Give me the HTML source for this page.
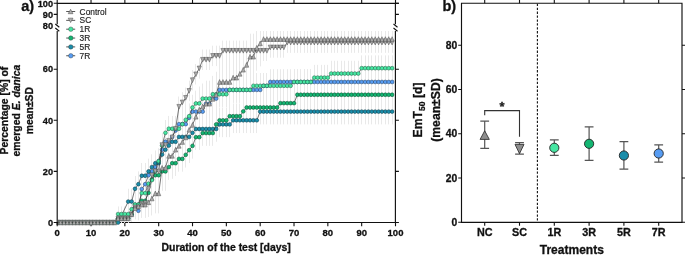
<!DOCTYPE html>
<html><head><meta charset="utf-8"><style>
html,body{margin:0;padding:0;background:#fff;}
svg{display:block;will-change:transform;}
</style></head><body>
<svg width="685" height="255" viewBox="0 0 685 255">
<defs><clipPath id="clipLow"><rect x="40" y="31" width="370" height="192"/></clipPath><clipPath id="clipData"><rect x="58" y="28" width="336.8" height="227"/></clipPath></defs>
<rect width="685" height="255" fill="#fff"/>
<path d="M57.2,3.3V24.3 M57.2,31V225.0 M395.4,3.3V24.3 M395.4,31V222.5 M56.6,3.3H398.9 M57.2,222.5H396.0" stroke="#111" stroke-width="1.15" fill="none"/>
<path d="M55.300000000000004,24.0L59.300000000000004,27.2 M55.300000000000004,28.0L59.300000000000004,31.2" stroke="#111" stroke-width="1.1" fill="none"/>
<path d="M393.5,24.0L397.5,27.2 M393.5,28.0L397.5,31.2" stroke="#111" stroke-width="1.1" fill="none"/>
<path d="M57.20,222.5V226.3M57.20,3.3V0M91.03,222.5V226.3M91.03,3.3V0M124.86,222.5V226.3M124.86,3.3V0M158.69,222.5V226.3M158.69,3.3V0M192.52,222.5V226.3M192.52,3.3V0M226.35,222.5V226.3M226.35,3.3V0M260.18,222.5V226.3M260.18,3.3V0M294.01,222.5V226.3M294.01,3.3V0M327.84,222.5V226.3M327.84,3.3V0M361.67,222.5V226.3M361.67,3.3V0M395.50,222.5V226.3M395.50,3.3V0M53.7,222.50H57.2M395.4,222.50H398.9M53.7,171.40H57.2M395.4,171.40H398.9M53.7,120.30H57.2M395.4,120.30H398.9M53.7,69.20H57.2M395.4,69.20H398.9M53.7,3.3H57.2M395.4,3.3H398.9M53.7,14.4H57.2M395.4,14.4H398.9" stroke="#111" stroke-width="1.1" fill="none"/>
<g style="font-family:'Liberation Sans',sans-serif;stroke:#111;stroke-width:0.3px;font-weight:bold;font-size:9.2px" fill="#111"><text x="53" y="225.70" text-anchor="end">0</text><text x="53" y="174.60" text-anchor="end">20</text><text x="53" y="123.50" text-anchor="end">40</text><text x="53" y="72.40" text-anchor="end">60</text><text x="53" y="6.5" text-anchor="end">100</text><text x="53" y="17.6" text-anchor="end">90</text><text x="53" y="28.5" text-anchor="end">80</text></g>
<g style="font-family:'Liberation Sans',sans-serif;stroke:#111;stroke-width:0.3px;font-weight:bold;font-size:9.5px" fill="#111"><text x="57.20" y="235.9" text-anchor="middle">0</text><text x="91.03" y="235.9" text-anchor="middle">10</text><text x="124.86" y="235.9" text-anchor="middle">20</text><text x="158.69" y="235.9" text-anchor="middle">30</text><text x="192.52" y="235.9" text-anchor="middle">40</text><text x="226.35" y="235.9" text-anchor="middle">50</text><text x="260.18" y="235.9" text-anchor="middle">60</text><text x="294.01" y="235.9" text-anchor="middle">70</text><text x="327.84" y="235.9" text-anchor="middle">80</text><text x="361.67" y="235.9" text-anchor="middle">90</text><text x="395.50" y="235.9" text-anchor="middle">100</text></g>
<text x="226.2" y="250.9" text-anchor="middle" style="font-family:'Liberation Sans',sans-serif;stroke:#111;stroke-width:0.3px;font-weight:bold;font-size:10.45px" fill="#111">Duration of the test [days]</text>
<text x="21.3" y="11.0" style="font-family:'Liberation Sans',sans-serif;stroke:#111;stroke-width:0.3px;font-weight:bold;font-size:14.5px" fill="#111">a)</text>
<g transform="translate(0,110.6) rotate(-90)" style="font-family:'Liberation Sans',sans-serif;stroke:#111;stroke-width:0.3px;font-weight:bold;font-size:10.4px" fill="#111" text-anchor="middle"><text x="0" y="8.2">Percentage [%] of</text><text x="0" y="20.0">emerged <tspan font-style="italic">E. danica</tspan></text><text x="0" y="32.9">mean±SD</text></g>
<path d="M66.2,11.50H75.2" stroke="#444" stroke-width="0.9"/><path d="M70.60,9.30L73.00,13.70L68.20,13.70Z" fill="#b0b0b0" stroke="#444" stroke-width="0.5"/><text x="79.6" y="14.50" style="font-family:'Liberation Sans',sans-serif;stroke:#111;stroke-width:0.3px;font-size:8.4px;stroke:#222;stroke-width:0.15px" fill="#222">Control</text><path d="M66.2,20.35H75.2" stroke="#444" stroke-width="0.9"/><path d="M70.60,22.55L73.00,18.15L68.20,18.15Z" fill="#b0b0b0" stroke="#444" stroke-width="0.5"/><text x="79.6" y="23.35" style="font-family:'Liberation Sans',sans-serif;stroke:#111;stroke-width:0.3px;font-size:8.4px;stroke:#222;stroke-width:0.15px" fill="#222">SC</text><path d="M66.2,29.20H75.2" stroke="#444" stroke-width="0.9"/><circle cx="70.8" cy="29.20" r="2.25" fill="#46e6a2" stroke="#2a3838" stroke-width="0.4"/><text x="79.6" y="32.20" style="font-family:'Liberation Sans',sans-serif;stroke:#111;stroke-width:0.3px;font-size:8.4px;stroke:#222;stroke-width:0.15px" fill="#222">1R</text><path d="M66.2,38.05H75.2" stroke="#444" stroke-width="0.9"/><circle cx="70.8" cy="38.05" r="2.25" fill="#14b572" stroke="#2a3838" stroke-width="0.4"/><text x="79.6" y="41.05" style="font-family:'Liberation Sans',sans-serif;stroke:#111;stroke-width:0.3px;font-size:8.4px;stroke:#222;stroke-width:0.15px" fill="#222">3R</text><path d="M66.2,46.90H75.2" stroke="#444" stroke-width="0.9"/><circle cx="70.8" cy="46.90" r="2.25" fill="#1b8daa" stroke="#2a3838" stroke-width="0.4"/><text x="79.6" y="49.90" style="font-family:'Liberation Sans',sans-serif;stroke:#111;stroke-width:0.3px;font-size:8.4px;stroke:#222;stroke-width:0.15px" fill="#222">5R</text><path d="M66.2,55.75H75.2" stroke="#444" stroke-width="0.9"/><circle cx="70.8" cy="55.75" r="2.25" fill="#579cf2" stroke="#2a3838" stroke-width="0.4"/><text x="79.6" y="58.75" style="font-family:'Liberation Sans',sans-serif;stroke:#111;stroke-width:0.3px;font-size:8.4px;stroke:#222;stroke-width:0.15px" fill="#222">7R</text>
<g clip-path="url(#clipData)">
<path d="M118.50,213.40V222.50M121.50,213.40V222.50M124.50,213.40V222.50M128.50,213.40V222.50M131.50,207.27V221.89M135.50,195.01V218.82M138.50,201.14V220.35M141.50,176.25V201.80M145.50,171.40V196.95M148.50,162.46V188.01M151.50,158.62V184.18M155.50,154.28V179.83M158.50,148.41V173.95M162.50,136.91V162.46M165.50,128.99V154.54M168.50,128.99V154.54M172.50,124.13V149.68M175.50,117.74V143.30M178.50,111.36V136.91M182.50,111.36V136.91M185.50,111.36V136.91M189.50,104.97V130.52M192.50,98.84V124.39M195.50,98.84V124.39M199.50,98.84V124.39M202.50,98.84V124.39M206.50,90.92V116.47M209.50,90.92V116.47M212.50,85.81V111.36M216.50,85.81V111.36M219.50,77.12V102.67M222.50,77.12V102.67M226.50,77.12V102.67M229.50,77.12V102.67M233.50,77.12V102.67M236.50,77.12V102.67M239.50,77.12V102.67M243.50,77.12V102.67M246.50,77.12V102.67M250.50,77.12V102.67M253.50,77.12V102.67M256.50,77.12V102.67M260.50,77.12V102.67M263.50,73.03V98.58M266.50,73.03V98.58M270.50,69.20V94.75M273.50,69.20V94.75M277.50,69.20V94.75M280.50,69.20V94.75M283.50,69.20V94.75M287.50,69.20V94.75M290.50,69.20V94.75M294.50,69.20V94.75M297.50,69.20V94.75M300.50,69.20V94.75M304.50,69.20V94.75M307.50,69.20V94.75M310.50,69.20V94.75M314.50,69.20V94.75M317.50,69.20V94.75M321.50,69.20V94.75M324.50,69.20V94.75M327.50,69.20V94.75M331.50,69.20V94.75M334.50,69.20V94.75M337.50,69.20V94.75M341.50,69.20V94.75M344.50,69.20V94.75M348.50,69.20V94.75M351.50,69.20V94.75M354.50,69.20V94.75M358.50,69.20V94.75M361.50,69.20V94.75M365.50,69.20V94.75M368.50,69.20V94.75M371.50,69.20V94.75M375.50,69.20V94.75M378.50,69.20V94.75M381.50,69.20V94.75M385.50,69.20V94.75M388.50,69.20V94.75M392.50,69.20V94.75M128.50,188.77V214.32M131.50,188.77V214.32M135.50,176.00V201.55M138.50,171.40V196.95M141.50,162.97V188.52M145.50,162.97V188.52M148.50,158.62V184.18M151.50,154.28V179.83M155.50,150.45V176.00M158.50,150.45V176.00M162.50,141.76V167.31M165.50,136.91V162.46M168.50,132.82V158.37M172.50,128.99V154.54M175.50,128.99V154.54M178.50,124.13V149.68M182.50,124.13V149.68M185.50,124.13V149.68M189.50,124.13V149.68M192.50,120.04V145.59M195.50,116.21V141.76M199.50,116.21V141.76M202.50,116.21V141.76M206.50,116.21V141.76M209.50,116.21V141.76M212.50,116.21V141.76M216.50,116.21V141.76M219.50,111.61V137.16M222.50,111.61V137.16M226.50,111.61V137.16M229.50,111.61V137.16M233.50,107.52V133.07M236.50,107.52V133.07M239.50,107.52V133.07M243.50,107.52V133.07M246.50,107.52V133.07M250.50,107.52V133.07M253.50,107.52V133.07M256.50,107.52V133.07M260.50,98.84V124.39M263.50,98.84V124.39M266.50,98.84V124.39M270.50,98.84V124.39M273.50,98.84V124.39M277.50,98.84V124.39M280.50,98.84V124.39M283.50,98.84V124.39M287.50,98.84V124.39M290.50,98.84V124.39M294.50,98.84V124.39M297.50,98.84V124.39M300.50,98.84V124.39M304.50,98.84V124.39M307.50,98.84V124.39M310.50,98.84V124.39M314.50,98.84V124.39M317.50,98.84V124.39M321.50,98.84V124.39M324.50,98.84V124.39M327.50,98.84V124.39M331.50,98.84V124.39M334.50,98.84V124.39M337.50,98.84V124.39M341.50,98.84V124.39M344.50,98.84V124.39M348.50,98.84V124.39M351.50,98.84V124.39M354.50,98.84V124.39M358.50,98.84V124.39M361.50,98.84V124.39M365.50,98.84V124.39M368.50,98.84V124.39M371.50,98.84V124.39M375.50,98.84V124.39M378.50,98.84V124.39M381.50,98.84V124.39M385.50,98.84V124.39M388.50,98.84V124.39M392.50,98.84V124.39M118.50,213.40V222.50M121.50,213.40V222.50M124.50,213.40V222.50M128.50,213.40V222.50M131.50,206.86V221.78M135.50,191.84V217.39M138.50,191.84V217.39M141.50,188.01V213.56M145.50,188.01V213.56M148.50,180.09V205.64M151.50,166.55V192.10M155.50,162.46V188.01M158.50,162.46V188.01M162.50,158.62V184.18M165.50,158.62V184.18M168.50,154.28V179.83M172.50,150.45V176.00M175.50,150.45V176.00M178.50,146.11V171.66M182.50,146.11V171.66M185.50,142.02V167.57M189.50,137.42V162.97M192.50,133.07V158.62M195.50,124.39V149.94M199.50,124.39V149.94M202.50,120.30V145.85M206.50,120.30V145.85M209.50,120.30V145.85M212.50,120.30V145.85M216.50,111.61V137.16M219.50,107.52V133.07M222.50,107.52V133.07M226.50,107.52V133.07M229.50,103.44V128.99M233.50,103.44V128.99M236.50,103.44V128.99M239.50,103.44V128.99M243.50,98.58V124.13M246.50,94.75V120.30M250.50,94.75V120.30M253.50,94.75V120.30M256.50,94.75V120.30M260.50,94.75V120.30M263.50,94.75V120.30M266.50,94.75V120.30M270.50,94.75V120.30M273.50,94.75V120.30M277.50,94.75V120.30M280.50,90.41V115.96M283.50,90.41V115.96M287.50,90.41V115.96M290.50,90.41V115.96M294.50,90.41V115.96M297.50,81.97V107.52M300.50,81.97V107.52M304.50,81.97V107.52M307.50,81.97V107.52M310.50,81.97V107.52M314.50,81.97V107.52M317.50,81.97V107.52M321.50,81.97V107.52M324.50,81.97V107.52M327.50,81.97V107.52M331.50,81.97V107.52M334.50,81.97V107.52M337.50,81.97V107.52M341.50,81.97V107.52M344.50,81.97V107.52M348.50,81.97V107.52M351.50,81.97V107.52M354.50,81.97V107.52M358.50,81.97V107.52M361.50,81.97V107.52M365.50,81.97V107.52M368.50,81.97V107.52M371.50,81.97V107.52M375.50,81.97V107.52M378.50,81.97V107.52M381.50,81.97V107.52M385.50,81.97V107.52M388.50,81.97V107.52M392.50,81.97V107.52M118.50,206.45V221.68M121.50,206.45V221.68M124.50,206.45V221.68M128.50,206.45V221.68M131.50,198.69V219.74M135.50,191.84V217.39M138.50,191.84V217.39M141.50,180.34V205.89M145.50,180.34V205.89M148.50,170.89V196.44M151.50,167.31V192.86M155.50,158.62V184.18M158.50,148.41V173.95M162.50,132.82V158.37M165.50,120.04V145.59M168.50,115.96V141.51M172.50,115.96V141.51M175.50,115.96V141.51M178.50,115.96V141.51M182.50,111.36V136.91M185.50,107.01V132.56M189.50,103.44V128.99M192.50,94.75V120.30M195.50,90.66V116.21M199.50,90.66V116.21M202.50,85.81V111.36M206.50,85.81V111.36M209.50,85.81V111.36M212.50,81.46V107.01M216.50,81.46V107.01M219.50,81.46V107.01M222.50,81.46V107.01M226.50,81.46V107.01M229.50,77.12V102.67M233.50,77.12V102.67M236.50,77.12V102.67M239.50,77.12V102.67M243.50,77.12V102.67M246.50,77.12V102.67M250.50,77.12V102.67M253.50,73.03V98.58M256.50,73.03V98.58M260.50,73.03V98.58M263.50,73.03V98.58M266.50,73.03V98.58M270.50,73.03V98.58M273.50,73.03V98.58M277.50,73.03V98.58M280.50,73.03V98.58M283.50,73.03V98.58M287.50,73.03V98.58M290.50,73.03V98.58M294.50,69.20V94.75M297.50,69.20V94.75M300.50,69.20V94.75M304.50,69.20V94.75M307.50,69.20V94.75M310.50,69.20V94.75M314.50,64.86V90.41M317.50,64.86V90.41M321.50,64.86V90.41M324.50,64.86V90.41M327.50,64.86V90.41M331.50,60.77V86.32M334.50,60.77V86.32M337.50,60.77V86.32M341.50,60.77V86.32M344.50,60.77V86.32M348.50,60.77V86.32M351.50,60.77V86.32M354.50,60.77V86.32M358.50,60.77V86.32M361.50,55.40V80.95M365.50,55.40V80.95M368.50,55.40V80.95M371.50,55.40V80.95M375.50,55.40V80.95M378.50,55.40V80.95M381.50,55.40V80.95M385.50,55.40V80.95M388.50,55.40V80.95M392.50,55.40V80.95M118.50,213.40V222.50M121.50,213.40V222.50M124.50,213.40V222.50M128.50,213.40V222.50M131.50,207.27V221.89M135.50,197.21V217.65M138.50,197.21V217.65M141.50,193.37V213.81M145.50,192.86V213.30M148.50,178.81V199.25M151.50,165.01V185.45M155.50,161.18V181.62M158.50,161.18V181.62M162.50,134.86V155.30M165.50,134.86V155.30M168.50,130.52V150.96M172.50,127.20V147.64M175.50,118.51V138.95M178.50,96.54V116.98M182.50,92.19V112.63M185.50,87.60V108.04M189.50,80.70V101.14M192.50,69.97V90.41M195.50,64.09V84.53M199.50,58.21V78.65M202.50,49.53V69.97M206.50,49.53V69.97M209.50,49.53V69.97M212.50,45.69V66.13M216.50,45.69V66.13M219.50,45.69V66.13M222.50,40.58V61.02M226.50,40.58V61.02M229.50,40.58V61.02M233.50,40.58V61.02M236.50,40.58V61.02M239.50,40.58V61.02M243.50,40.58V61.02M246.50,40.58V61.02M250.50,40.58V61.02M253.50,40.58V61.02M256.50,40.58V61.02M260.50,40.58V61.02M263.50,40.58V61.02M266.50,40.58V61.02M270.50,37.26V57.70M273.50,37.26V57.70M277.50,37.26V57.70M280.50,37.26V57.70M283.50,37.26V57.70M287.50,32.41V52.85M290.50,32.41V52.85M294.50,32.41V52.85M297.50,32.41V52.85M300.50,32.41V52.85M304.50,32.41V52.85M307.50,32.41V52.85M310.50,32.41V52.85M314.50,32.41V52.85M317.50,32.41V52.85M321.50,32.41V52.85M324.50,32.41V52.85M327.50,32.41V52.85M331.50,32.41V52.85M334.50,32.41V52.85M337.50,32.41V52.85M341.50,32.41V52.85M344.50,32.41V52.85M348.50,32.41V52.85M351.50,32.41V52.85M354.50,32.41V52.85M358.50,32.41V52.85M361.50,32.41V52.85M365.50,32.41V52.85M368.50,32.41V52.85M371.50,32.41V52.85M375.50,32.41V52.85M378.50,32.41V52.85M381.50,32.41V52.85M385.50,32.41V52.85M388.50,32.41V52.85M392.50,32.41V52.85M118.50,213.40V222.50M121.50,213.40V222.50M124.50,213.40V222.50M128.50,213.40V222.50M131.50,206.86V221.78M135.50,197.05V219.33M138.50,193.78V218.51M141.50,191.33V217.90M145.50,191.33V217.90M148.50,187.65V216.98M151.50,181.52V215.45M155.50,173.34V213.40M158.50,173.34V213.40M162.50,144.83V190.82M165.50,144.83V190.82M168.50,132.82V178.81M172.50,132.82V178.81M175.50,126.69V172.68M178.50,122.85V168.84M182.50,119.02V165.01M185.50,114.42V160.41M189.50,106.76V152.75M192.50,101.90V147.89M195.50,93.73V139.72M199.50,86.57V132.56M202.50,83.51V129.50M206.50,80.70V126.69M209.50,80.70V126.69M212.50,75.84V121.83M216.50,71.75V117.74M219.50,58.98V104.97M222.50,58.98V104.97M226.50,58.98V104.97M229.50,58.98V104.97M233.50,54.64V100.63M236.50,54.64V100.63M239.50,50.80V96.79M243.50,46.72V92.71M246.50,41.86V87.85M250.50,33.69V79.68M253.50,33.69V79.68M256.50,24.74V70.73M260.50,20.40V66.39M263.50,28.83V49.27M266.50,28.83V49.27M270.50,28.83V49.27M273.50,28.83V49.27M277.50,28.83V49.27M280.50,28.83V49.27M283.50,28.83V49.27M287.50,28.83V49.27M290.50,28.83V49.27M294.50,28.83V49.27M297.50,28.83V49.27M300.50,28.83V49.27M304.50,28.83V49.27M307.50,28.83V49.27M310.50,28.83V49.27M314.50,28.83V49.27M317.50,28.83V49.27M321.50,28.83V49.27M324.50,28.83V49.27M327.50,28.83V49.27M331.50,28.83V49.27M334.50,28.83V49.27M337.50,28.83V49.27M341.50,28.83V49.27M344.50,28.83V49.27M348.50,28.83V49.27M351.50,28.83V49.27M354.50,28.83V49.27M358.50,28.83V49.27M361.50,28.83V49.27M365.50,28.83V49.27M368.50,28.83V49.27M371.50,28.83V49.27M375.50,28.83V49.27M378.50,28.83V49.27M381.50,28.83V49.27M385.50,28.83V49.27M388.50,28.83V49.27M392.50,28.83V49.27" stroke="#e9e9e9" stroke-width="1" fill="none" clip-path="url(#clipLow)"/>
<polyline points="57.20,222.50 60.58,222.50 63.97,222.50 67.35,222.50 70.73,222.50 74.12,222.50 77.50,222.50 80.88,222.50 84.26,222.50 87.65,222.50 91.03,222.50 94.41,222.50 97.80,222.50 101.18,222.50 104.56,222.50 107.94,222.50 111.33,222.50 114.71,222.50 118.09,218.41 121.48,218.41 124.86,218.41 128.24,218.41 131.63,214.58 135.01,206.91 138.39,210.75 141.78,189.03 145.16,184.18 148.54,175.23 151.92,171.40 155.31,167.06 158.69,161.18 162.07,149.68 165.46,141.76 168.84,141.76 172.22,136.91 175.61,130.52 178.99,124.13 182.37,124.13 185.75,124.13 189.14,117.74 192.52,111.61 195.90,111.61 199.29,111.61 202.67,111.61 206.05,103.69 209.44,103.69 212.82,98.58 216.20,98.58 219.58,89.90 222.97,89.90 226.35,89.90 229.73,89.90 233.12,89.90 236.50,89.90 239.88,89.90 243.26,89.90 246.65,89.90 250.03,89.90 253.41,89.90 256.80,89.90 260.18,89.90 263.56,85.81 266.95,85.81 270.33,81.97 273.71,81.97 277.10,81.97 280.48,81.97 283.86,81.97 287.24,81.97 290.63,81.97 294.01,81.97 297.39,81.97 300.78,81.97 304.16,81.97 307.54,81.97 310.93,81.97 314.31,81.97 317.69,81.97 321.07,81.97 324.46,81.97 327.84,81.97 331.22,81.97 334.61,81.97 337.99,81.97 341.37,81.97 344.75,81.97 348.14,81.97 351.52,81.97 354.90,81.97 358.29,81.97 361.67,81.97 365.05,81.97 368.44,81.97 371.82,81.97 375.20,81.97 378.58,81.97 381.97,81.97 385.35,81.97 388.73,81.97 392.12,81.97" fill="none" stroke="#3a3a3a" stroke-width="0.7"/>
<g fill="#579cf2" stroke="#223e60" stroke-width="0.5"><circle cx="57.20" cy="222.50" r="1.9"/><circle cx="60.58" cy="222.50" r="1.9"/><circle cx="63.97" cy="222.50" r="1.9"/><circle cx="67.35" cy="222.50" r="1.9"/><circle cx="70.73" cy="222.50" r="1.9"/><circle cx="74.12" cy="222.50" r="1.9"/><circle cx="77.50" cy="222.50" r="1.9"/><circle cx="80.88" cy="222.50" r="1.9"/><circle cx="84.26" cy="222.50" r="1.9"/><circle cx="87.65" cy="222.50" r="1.9"/><circle cx="91.03" cy="222.50" r="1.9"/><circle cx="94.41" cy="222.50" r="1.9"/><circle cx="97.80" cy="222.50" r="1.9"/><circle cx="101.18" cy="222.50" r="1.9"/><circle cx="104.56" cy="222.50" r="1.9"/><circle cx="107.94" cy="222.50" r="1.9"/><circle cx="111.33" cy="222.50" r="1.9"/><circle cx="114.71" cy="222.50" r="1.9"/><circle cx="118.09" cy="218.41" r="1.9"/><circle cx="121.48" cy="218.41" r="1.9"/><circle cx="124.86" cy="218.41" r="1.9"/><circle cx="128.24" cy="218.41" r="1.9"/><circle cx="131.63" cy="214.58" r="1.9"/><circle cx="135.01" cy="206.91" r="1.9"/><circle cx="138.39" cy="210.75" r="1.9"/><circle cx="141.78" cy="189.03" r="1.9"/><circle cx="145.16" cy="184.18" r="1.9"/><circle cx="148.54" cy="175.23" r="1.9"/><circle cx="151.92" cy="171.40" r="1.9"/><circle cx="155.31" cy="167.06" r="1.9"/><circle cx="158.69" cy="161.18" r="1.9"/><circle cx="162.07" cy="149.68" r="1.9"/><circle cx="165.46" cy="141.76" r="1.9"/><circle cx="168.84" cy="141.76" r="1.9"/><circle cx="172.22" cy="136.91" r="1.9"/><circle cx="175.61" cy="130.52" r="1.9"/><circle cx="178.99" cy="124.13" r="1.9"/><circle cx="182.37" cy="124.13" r="1.9"/><circle cx="185.75" cy="124.13" r="1.9"/><circle cx="189.14" cy="117.74" r="1.9"/><circle cx="192.52" cy="111.61" r="1.9"/><circle cx="195.90" cy="111.61" r="1.9"/><circle cx="199.29" cy="111.61" r="1.9"/><circle cx="202.67" cy="111.61" r="1.9"/><circle cx="206.05" cy="103.69" r="1.9"/><circle cx="209.44" cy="103.69" r="1.9"/><circle cx="212.82" cy="98.58" r="1.9"/><circle cx="216.20" cy="98.58" r="1.9"/><circle cx="219.58" cy="89.90" r="1.9"/><circle cx="222.97" cy="89.90" r="1.9"/><circle cx="226.35" cy="89.90" r="1.9"/><circle cx="229.73" cy="89.90" r="1.9"/><circle cx="233.12" cy="89.90" r="1.9"/><circle cx="236.50" cy="89.90" r="1.9"/><circle cx="239.88" cy="89.90" r="1.9"/><circle cx="243.26" cy="89.90" r="1.9"/><circle cx="246.65" cy="89.90" r="1.9"/><circle cx="250.03" cy="89.90" r="1.9"/><circle cx="253.41" cy="89.90" r="1.9"/><circle cx="256.80" cy="89.90" r="1.9"/><circle cx="260.18" cy="89.90" r="1.9"/><circle cx="263.56" cy="85.81" r="1.9"/><circle cx="266.95" cy="85.81" r="1.9"/><circle cx="270.33" cy="81.97" r="1.9"/><circle cx="273.71" cy="81.97" r="1.9"/><circle cx="277.10" cy="81.97" r="1.9"/><circle cx="280.48" cy="81.97" r="1.9"/><circle cx="283.86" cy="81.97" r="1.9"/><circle cx="287.24" cy="81.97" r="1.9"/><circle cx="290.63" cy="81.97" r="1.9"/><circle cx="294.01" cy="81.97" r="1.9"/><circle cx="297.39" cy="81.97" r="1.9"/><circle cx="300.78" cy="81.97" r="1.9"/><circle cx="304.16" cy="81.97" r="1.9"/><circle cx="307.54" cy="81.97" r="1.9"/><circle cx="310.93" cy="81.97" r="1.9"/><circle cx="314.31" cy="81.97" r="1.9"/><circle cx="317.69" cy="81.97" r="1.9"/><circle cx="321.07" cy="81.97" r="1.9"/><circle cx="324.46" cy="81.97" r="1.9"/><circle cx="327.84" cy="81.97" r="1.9"/><circle cx="331.22" cy="81.97" r="1.9"/><circle cx="334.61" cy="81.97" r="1.9"/><circle cx="337.99" cy="81.97" r="1.9"/><circle cx="341.37" cy="81.97" r="1.9"/><circle cx="344.75" cy="81.97" r="1.9"/><circle cx="348.14" cy="81.97" r="1.9"/><circle cx="351.52" cy="81.97" r="1.9"/><circle cx="354.90" cy="81.97" r="1.9"/><circle cx="358.29" cy="81.97" r="1.9"/><circle cx="361.67" cy="81.97" r="1.9"/><circle cx="365.05" cy="81.97" r="1.9"/><circle cx="368.44" cy="81.97" r="1.9"/><circle cx="371.82" cy="81.97" r="1.9"/><circle cx="375.20" cy="81.97" r="1.9"/><circle cx="378.58" cy="81.97" r="1.9"/><circle cx="381.97" cy="81.97" r="1.9"/><circle cx="385.35" cy="81.97" r="1.9"/><circle cx="388.73" cy="81.97" r="1.9"/><circle cx="392.12" cy="81.97" r="1.9"/></g>
<polyline points="57.20,222.50 60.58,222.50 63.97,222.50 67.35,222.50 70.73,222.50 74.12,222.50 77.50,222.50 80.88,222.50 84.26,222.50 87.65,222.50 91.03,222.50 94.41,222.50 97.80,222.50 101.18,222.50 104.56,222.50 107.94,222.50 111.33,222.50 114.71,222.50 118.09,222.50 128.24,201.55 131.63,201.55 135.01,188.77 138.39,184.18 141.78,175.74 145.16,175.74 148.54,171.40 151.92,167.06 155.31,163.22 158.69,163.22 162.07,154.54 165.46,149.68 168.84,145.59 172.22,141.76 175.61,141.76 178.99,136.91 182.37,136.91 185.75,136.91 189.14,136.91 192.52,132.82 195.90,128.99 199.29,128.99 202.67,128.99 206.05,128.99 209.44,128.99 212.82,128.99 216.20,128.99 219.58,124.39 222.97,124.39 226.35,124.39 229.73,124.39 233.12,120.30 236.50,120.30 239.88,120.30 243.26,120.30 246.65,120.30 250.03,120.30 253.41,120.30 256.80,120.30 260.18,111.61 263.56,111.61 266.95,111.61 270.33,111.61 273.71,111.61 277.10,111.61 280.48,111.61 283.86,111.61 287.24,111.61 290.63,111.61 294.01,111.61 297.39,111.61 300.78,111.61 304.16,111.61 307.54,111.61 310.93,111.61 314.31,111.61 317.69,111.61 321.07,111.61 324.46,111.61 327.84,111.61 331.22,111.61 334.61,111.61 337.99,111.61 341.37,111.61 344.75,111.61 348.14,111.61 351.52,111.61 354.90,111.61 358.29,111.61 361.67,111.61 365.05,111.61 368.44,111.61 371.82,111.61 375.20,111.61 378.58,111.61 381.97,111.61 385.35,111.61 388.73,111.61 392.12,111.61" fill="none" stroke="#3a3a3a" stroke-width="0.7"/>
<g fill="#1b8daa" stroke="#0a3844" stroke-width="0.5"><circle cx="57.20" cy="222.50" r="1.9"/><circle cx="60.58" cy="222.50" r="1.9"/><circle cx="63.97" cy="222.50" r="1.9"/><circle cx="67.35" cy="222.50" r="1.9"/><circle cx="70.73" cy="222.50" r="1.9"/><circle cx="74.12" cy="222.50" r="1.9"/><circle cx="77.50" cy="222.50" r="1.9"/><circle cx="80.88" cy="222.50" r="1.9"/><circle cx="84.26" cy="222.50" r="1.9"/><circle cx="87.65" cy="222.50" r="1.9"/><circle cx="91.03" cy="222.50" r="1.9"/><circle cx="94.41" cy="222.50" r="1.9"/><circle cx="97.80" cy="222.50" r="1.9"/><circle cx="101.18" cy="222.50" r="1.9"/><circle cx="104.56" cy="222.50" r="1.9"/><circle cx="107.94" cy="222.50" r="1.9"/><circle cx="111.33" cy="222.50" r="1.9"/><circle cx="114.71" cy="222.50" r="1.9"/><circle cx="118.09" cy="222.50" r="1.9"/><circle cx="128.24" cy="201.55" r="1.9"/><circle cx="131.63" cy="201.55" r="1.9"/><circle cx="135.01" cy="188.77" r="1.9"/><circle cx="138.39" cy="184.18" r="1.9"/><circle cx="141.78" cy="175.74" r="1.9"/><circle cx="145.16" cy="175.74" r="1.9"/><circle cx="148.54" cy="171.40" r="1.9"/><circle cx="151.92" cy="167.06" r="1.9"/><circle cx="155.31" cy="163.22" r="1.9"/><circle cx="158.69" cy="163.22" r="1.9"/><circle cx="162.07" cy="154.54" r="1.9"/><circle cx="165.46" cy="149.68" r="1.9"/><circle cx="168.84" cy="145.59" r="1.9"/><circle cx="172.22" cy="141.76" r="1.9"/><circle cx="175.61" cy="141.76" r="1.9"/><circle cx="178.99" cy="136.91" r="1.9"/><circle cx="182.37" cy="136.91" r="1.9"/><circle cx="185.75" cy="136.91" r="1.9"/><circle cx="189.14" cy="136.91" r="1.9"/><circle cx="192.52" cy="132.82" r="1.9"/><circle cx="195.90" cy="128.99" r="1.9"/><circle cx="199.29" cy="128.99" r="1.9"/><circle cx="202.67" cy="128.99" r="1.9"/><circle cx="206.05" cy="128.99" r="1.9"/><circle cx="209.44" cy="128.99" r="1.9"/><circle cx="212.82" cy="128.99" r="1.9"/><circle cx="216.20" cy="128.99" r="1.9"/><circle cx="219.58" cy="124.39" r="1.9"/><circle cx="222.97" cy="124.39" r="1.9"/><circle cx="226.35" cy="124.39" r="1.9"/><circle cx="229.73" cy="124.39" r="1.9"/><circle cx="233.12" cy="120.30" r="1.9"/><circle cx="236.50" cy="120.30" r="1.9"/><circle cx="239.88" cy="120.30" r="1.9"/><circle cx="243.26" cy="120.30" r="1.9"/><circle cx="246.65" cy="120.30" r="1.9"/><circle cx="250.03" cy="120.30" r="1.9"/><circle cx="253.41" cy="120.30" r="1.9"/><circle cx="256.80" cy="120.30" r="1.9"/><circle cx="260.18" cy="111.61" r="1.9"/><circle cx="263.56" cy="111.61" r="1.9"/><circle cx="266.95" cy="111.61" r="1.9"/><circle cx="270.33" cy="111.61" r="1.9"/><circle cx="273.71" cy="111.61" r="1.9"/><circle cx="277.10" cy="111.61" r="1.9"/><circle cx="280.48" cy="111.61" r="1.9"/><circle cx="283.86" cy="111.61" r="1.9"/><circle cx="287.24" cy="111.61" r="1.9"/><circle cx="290.63" cy="111.61" r="1.9"/><circle cx="294.01" cy="111.61" r="1.9"/><circle cx="297.39" cy="111.61" r="1.9"/><circle cx="300.78" cy="111.61" r="1.9"/><circle cx="304.16" cy="111.61" r="1.9"/><circle cx="307.54" cy="111.61" r="1.9"/><circle cx="310.93" cy="111.61" r="1.9"/><circle cx="314.31" cy="111.61" r="1.9"/><circle cx="317.69" cy="111.61" r="1.9"/><circle cx="321.07" cy="111.61" r="1.9"/><circle cx="324.46" cy="111.61" r="1.9"/><circle cx="327.84" cy="111.61" r="1.9"/><circle cx="331.22" cy="111.61" r="1.9"/><circle cx="334.61" cy="111.61" r="1.9"/><circle cx="337.99" cy="111.61" r="1.9"/><circle cx="341.37" cy="111.61" r="1.9"/><circle cx="344.75" cy="111.61" r="1.9"/><circle cx="348.14" cy="111.61" r="1.9"/><circle cx="351.52" cy="111.61" r="1.9"/><circle cx="354.90" cy="111.61" r="1.9"/><circle cx="358.29" cy="111.61" r="1.9"/><circle cx="361.67" cy="111.61" r="1.9"/><circle cx="365.05" cy="111.61" r="1.9"/><circle cx="368.44" cy="111.61" r="1.9"/><circle cx="371.82" cy="111.61" r="1.9"/><circle cx="375.20" cy="111.61" r="1.9"/><circle cx="378.58" cy="111.61" r="1.9"/><circle cx="381.97" cy="111.61" r="1.9"/><circle cx="385.35" cy="111.61" r="1.9"/><circle cx="388.73" cy="111.61" r="1.9"/><circle cx="392.12" cy="111.61" r="1.9"/></g>
<polyline points="57.20,222.50 60.58,222.50 63.97,222.50 67.35,222.50 70.73,222.50 74.12,222.50 77.50,222.50 80.88,222.50 84.26,222.50 87.65,222.50 91.03,222.50 94.41,222.50 97.80,222.50 101.18,222.50 104.56,222.50 107.94,222.50 111.33,222.50 114.71,222.50 118.09,218.41 121.48,218.41 124.86,218.41 128.24,218.41 131.63,214.32 135.01,204.62 138.39,204.62 141.78,200.78 145.16,200.78 148.54,192.86 151.92,179.32 155.31,175.23 158.69,175.23 162.07,171.40 165.46,171.40 168.84,167.06 172.22,163.22 175.61,163.22 178.99,158.88 182.37,158.88 185.75,154.79 189.14,150.19 192.52,145.85 195.90,137.16 199.29,137.16 202.67,133.07 206.05,133.07 209.44,133.07 212.82,133.07 216.20,124.39 219.58,120.30 222.97,120.30 226.35,120.30 229.73,116.21 233.12,116.21 236.50,116.21 239.88,116.21 243.26,111.36 246.65,107.52 250.03,107.52 253.41,107.52 256.80,107.52 260.18,107.52 263.56,107.52 266.95,107.52 270.33,107.52 273.71,107.52 277.10,107.52 280.48,103.18 283.86,103.18 287.24,103.18 290.63,103.18 294.01,103.18 297.39,94.75 300.78,94.75 304.16,94.75 307.54,94.75 310.93,94.75 314.31,94.75 317.69,94.75 321.07,94.75 324.46,94.75 327.84,94.75 331.22,94.75 334.61,94.75 337.99,94.75 341.37,94.75 344.75,94.75 348.14,94.75 351.52,94.75 354.90,94.75 358.29,94.75 361.67,94.75 365.05,94.75 368.44,94.75 371.82,94.75 375.20,94.75 378.58,94.75 381.97,94.75 385.35,94.75 388.73,94.75 392.12,94.75" fill="none" stroke="#3a3a3a" stroke-width="0.7"/>
<g fill="#14b572" stroke="#08482d" stroke-width="0.5"><circle cx="57.20" cy="222.50" r="1.9"/><circle cx="60.58" cy="222.50" r="1.9"/><circle cx="63.97" cy="222.50" r="1.9"/><circle cx="67.35" cy="222.50" r="1.9"/><circle cx="70.73" cy="222.50" r="1.9"/><circle cx="74.12" cy="222.50" r="1.9"/><circle cx="77.50" cy="222.50" r="1.9"/><circle cx="80.88" cy="222.50" r="1.9"/><circle cx="84.26" cy="222.50" r="1.9"/><circle cx="87.65" cy="222.50" r="1.9"/><circle cx="91.03" cy="222.50" r="1.9"/><circle cx="94.41" cy="222.50" r="1.9"/><circle cx="97.80" cy="222.50" r="1.9"/><circle cx="101.18" cy="222.50" r="1.9"/><circle cx="104.56" cy="222.50" r="1.9"/><circle cx="107.94" cy="222.50" r="1.9"/><circle cx="111.33" cy="222.50" r="1.9"/><circle cx="114.71" cy="222.50" r="1.9"/><circle cx="118.09" cy="218.41" r="1.9"/><circle cx="121.48" cy="218.41" r="1.9"/><circle cx="124.86" cy="218.41" r="1.9"/><circle cx="128.24" cy="218.41" r="1.9"/><circle cx="131.63" cy="214.32" r="1.9"/><circle cx="135.01" cy="204.62" r="1.9"/><circle cx="138.39" cy="204.62" r="1.9"/><circle cx="141.78" cy="200.78" r="1.9"/><circle cx="145.16" cy="200.78" r="1.9"/><circle cx="148.54" cy="192.86" r="1.9"/><circle cx="151.92" cy="179.32" r="1.9"/><circle cx="155.31" cy="175.23" r="1.9"/><circle cx="158.69" cy="175.23" r="1.9"/><circle cx="162.07" cy="171.40" r="1.9"/><circle cx="165.46" cy="171.40" r="1.9"/><circle cx="168.84" cy="167.06" r="1.9"/><circle cx="172.22" cy="163.22" r="1.9"/><circle cx="175.61" cy="163.22" r="1.9"/><circle cx="178.99" cy="158.88" r="1.9"/><circle cx="182.37" cy="158.88" r="1.9"/><circle cx="185.75" cy="154.79" r="1.9"/><circle cx="189.14" cy="150.19" r="1.9"/><circle cx="192.52" cy="145.85" r="1.9"/><circle cx="195.90" cy="137.16" r="1.9"/><circle cx="199.29" cy="137.16" r="1.9"/><circle cx="202.67" cy="133.07" r="1.9"/><circle cx="206.05" cy="133.07" r="1.9"/><circle cx="209.44" cy="133.07" r="1.9"/><circle cx="212.82" cy="133.07" r="1.9"/><circle cx="216.20" cy="124.39" r="1.9"/><circle cx="219.58" cy="120.30" r="1.9"/><circle cx="222.97" cy="120.30" r="1.9"/><circle cx="226.35" cy="120.30" r="1.9"/><circle cx="229.73" cy="116.21" r="1.9"/><circle cx="233.12" cy="116.21" r="1.9"/><circle cx="236.50" cy="116.21" r="1.9"/><circle cx="239.88" cy="116.21" r="1.9"/><circle cx="243.26" cy="111.36" r="1.9"/><circle cx="246.65" cy="107.52" r="1.9"/><circle cx="250.03" cy="107.52" r="1.9"/><circle cx="253.41" cy="107.52" r="1.9"/><circle cx="256.80" cy="107.52" r="1.9"/><circle cx="260.18" cy="107.52" r="1.9"/><circle cx="263.56" cy="107.52" r="1.9"/><circle cx="266.95" cy="107.52" r="1.9"/><circle cx="270.33" cy="107.52" r="1.9"/><circle cx="273.71" cy="107.52" r="1.9"/><circle cx="277.10" cy="107.52" r="1.9"/><circle cx="280.48" cy="103.18" r="1.9"/><circle cx="283.86" cy="103.18" r="1.9"/><circle cx="287.24" cy="103.18" r="1.9"/><circle cx="290.63" cy="103.18" r="1.9"/><circle cx="294.01" cy="103.18" r="1.9"/><circle cx="297.39" cy="94.75" r="1.9"/><circle cx="300.78" cy="94.75" r="1.9"/><circle cx="304.16" cy="94.75" r="1.9"/><circle cx="307.54" cy="94.75" r="1.9"/><circle cx="310.93" cy="94.75" r="1.9"/><circle cx="314.31" cy="94.75" r="1.9"/><circle cx="317.69" cy="94.75" r="1.9"/><circle cx="321.07" cy="94.75" r="1.9"/><circle cx="324.46" cy="94.75" r="1.9"/><circle cx="327.84" cy="94.75" r="1.9"/><circle cx="331.22" cy="94.75" r="1.9"/><circle cx="334.61" cy="94.75" r="1.9"/><circle cx="337.99" cy="94.75" r="1.9"/><circle cx="341.37" cy="94.75" r="1.9"/><circle cx="344.75" cy="94.75" r="1.9"/><circle cx="348.14" cy="94.75" r="1.9"/><circle cx="351.52" cy="94.75" r="1.9"/><circle cx="354.90" cy="94.75" r="1.9"/><circle cx="358.29" cy="94.75" r="1.9"/><circle cx="361.67" cy="94.75" r="1.9"/><circle cx="365.05" cy="94.75" r="1.9"/><circle cx="368.44" cy="94.75" r="1.9"/><circle cx="371.82" cy="94.75" r="1.9"/><circle cx="375.20" cy="94.75" r="1.9"/><circle cx="378.58" cy="94.75" r="1.9"/><circle cx="381.97" cy="94.75" r="1.9"/><circle cx="385.35" cy="94.75" r="1.9"/><circle cx="388.73" cy="94.75" r="1.9"/><circle cx="392.12" cy="94.75" r="1.9"/></g>
<polyline points="57.20,222.50 60.58,222.50 63.97,222.50 67.35,222.50 70.73,222.50 74.12,222.50 77.50,222.50 80.88,222.50 84.26,222.50 87.65,222.50 91.03,222.50 94.41,222.50 97.80,222.50 101.18,222.50 104.56,222.50 107.94,222.50 111.33,222.50 114.71,222.50 118.09,214.07 121.48,214.07 124.86,214.07 128.24,214.07 131.63,209.21 135.01,204.62 138.39,204.62 141.78,193.12 145.16,193.12 148.54,183.66 151.92,180.09 155.31,171.40 158.69,161.18 162.07,145.59 165.46,132.82 168.84,128.73 172.22,128.73 175.61,128.73 178.99,128.73 182.37,124.13 185.75,119.79 189.14,116.21 192.52,107.52 195.90,103.44 199.29,103.44 202.67,98.58 206.05,98.58 209.44,98.58 212.82,94.24 216.20,94.24 219.58,94.24 222.97,94.24 226.35,94.24 229.73,89.90 233.12,89.90 236.50,89.90 239.88,89.90 243.26,89.90 246.65,89.90 250.03,89.90 253.41,85.81 256.80,85.81 260.18,85.81 263.56,85.81 266.95,85.81 270.33,85.81 273.71,85.81 277.10,85.81 280.48,85.81 283.86,85.81 287.24,85.81 290.63,85.81 294.01,81.97 297.39,81.97 300.78,81.97 304.16,81.97 307.54,81.97 310.93,81.97 314.31,77.63 317.69,77.63 321.07,77.63 324.46,77.63 327.84,77.63 331.22,73.54 334.61,73.54 337.99,73.54 341.37,73.54 344.75,73.54 348.14,73.54 351.52,73.54 354.90,73.54 358.29,73.54 361.67,68.18 365.05,68.18 368.44,68.18 371.82,68.18 375.20,68.18 378.58,68.18 381.97,68.18 385.35,68.18 388.73,68.18 392.12,68.18" fill="none" stroke="#3a3a3a" stroke-width="0.7"/>
<g fill="#46e6a2" stroke="#1c5c40" stroke-width="0.5"><circle cx="57.20" cy="222.50" r="1.9"/><circle cx="60.58" cy="222.50" r="1.9"/><circle cx="63.97" cy="222.50" r="1.9"/><circle cx="67.35" cy="222.50" r="1.9"/><circle cx="70.73" cy="222.50" r="1.9"/><circle cx="74.12" cy="222.50" r="1.9"/><circle cx="77.50" cy="222.50" r="1.9"/><circle cx="80.88" cy="222.50" r="1.9"/><circle cx="84.26" cy="222.50" r="1.9"/><circle cx="87.65" cy="222.50" r="1.9"/><circle cx="91.03" cy="222.50" r="1.9"/><circle cx="94.41" cy="222.50" r="1.9"/><circle cx="97.80" cy="222.50" r="1.9"/><circle cx="101.18" cy="222.50" r="1.9"/><circle cx="104.56" cy="222.50" r="1.9"/><circle cx="107.94" cy="222.50" r="1.9"/><circle cx="111.33" cy="222.50" r="1.9"/><circle cx="114.71" cy="222.50" r="1.9"/><circle cx="118.09" cy="214.07" r="1.9"/><circle cx="121.48" cy="214.07" r="1.9"/><circle cx="124.86" cy="214.07" r="1.9"/><circle cx="128.24" cy="214.07" r="1.9"/><circle cx="131.63" cy="209.21" r="1.9"/><circle cx="135.01" cy="204.62" r="1.9"/><circle cx="138.39" cy="204.62" r="1.9"/><circle cx="141.78" cy="193.12" r="1.9"/><circle cx="145.16" cy="193.12" r="1.9"/><circle cx="148.54" cy="183.66" r="1.9"/><circle cx="151.92" cy="180.09" r="1.9"/><circle cx="155.31" cy="171.40" r="1.9"/><circle cx="158.69" cy="161.18" r="1.9"/><circle cx="162.07" cy="145.59" r="1.9"/><circle cx="165.46" cy="132.82" r="1.9"/><circle cx="168.84" cy="128.73" r="1.9"/><circle cx="172.22" cy="128.73" r="1.9"/><circle cx="175.61" cy="128.73" r="1.9"/><circle cx="178.99" cy="128.73" r="1.9"/><circle cx="182.37" cy="124.13" r="1.9"/><circle cx="185.75" cy="119.79" r="1.9"/><circle cx="189.14" cy="116.21" r="1.9"/><circle cx="192.52" cy="107.52" r="1.9"/><circle cx="195.90" cy="103.44" r="1.9"/><circle cx="199.29" cy="103.44" r="1.9"/><circle cx="202.67" cy="98.58" r="1.9"/><circle cx="206.05" cy="98.58" r="1.9"/><circle cx="209.44" cy="98.58" r="1.9"/><circle cx="212.82" cy="94.24" r="1.9"/><circle cx="216.20" cy="94.24" r="1.9"/><circle cx="219.58" cy="94.24" r="1.9"/><circle cx="222.97" cy="94.24" r="1.9"/><circle cx="226.35" cy="94.24" r="1.9"/><circle cx="229.73" cy="89.90" r="1.9"/><circle cx="233.12" cy="89.90" r="1.9"/><circle cx="236.50" cy="89.90" r="1.9"/><circle cx="239.88" cy="89.90" r="1.9"/><circle cx="243.26" cy="89.90" r="1.9"/><circle cx="246.65" cy="89.90" r="1.9"/><circle cx="250.03" cy="89.90" r="1.9"/><circle cx="253.41" cy="85.81" r="1.9"/><circle cx="256.80" cy="85.81" r="1.9"/><circle cx="260.18" cy="85.81" r="1.9"/><circle cx="263.56" cy="85.81" r="1.9"/><circle cx="266.95" cy="85.81" r="1.9"/><circle cx="270.33" cy="85.81" r="1.9"/><circle cx="273.71" cy="85.81" r="1.9"/><circle cx="277.10" cy="85.81" r="1.9"/><circle cx="280.48" cy="85.81" r="1.9"/><circle cx="283.86" cy="85.81" r="1.9"/><circle cx="287.24" cy="85.81" r="1.9"/><circle cx="290.63" cy="85.81" r="1.9"/><circle cx="294.01" cy="81.97" r="1.9"/><circle cx="297.39" cy="81.97" r="1.9"/><circle cx="300.78" cy="81.97" r="1.9"/><circle cx="304.16" cy="81.97" r="1.9"/><circle cx="307.54" cy="81.97" r="1.9"/><circle cx="310.93" cy="81.97" r="1.9"/><circle cx="314.31" cy="77.63" r="1.9"/><circle cx="317.69" cy="77.63" r="1.9"/><circle cx="321.07" cy="77.63" r="1.9"/><circle cx="324.46" cy="77.63" r="1.9"/><circle cx="327.84" cy="77.63" r="1.9"/><circle cx="331.22" cy="73.54" r="1.9"/><circle cx="334.61" cy="73.54" r="1.9"/><circle cx="337.99" cy="73.54" r="1.9"/><circle cx="341.37" cy="73.54" r="1.9"/><circle cx="344.75" cy="73.54" r="1.9"/><circle cx="348.14" cy="73.54" r="1.9"/><circle cx="351.52" cy="73.54" r="1.9"/><circle cx="354.90" cy="73.54" r="1.9"/><circle cx="358.29" cy="73.54" r="1.9"/><circle cx="361.67" cy="68.18" r="1.9"/><circle cx="365.05" cy="68.18" r="1.9"/><circle cx="368.44" cy="68.18" r="1.9"/><circle cx="371.82" cy="68.18" r="1.9"/><circle cx="375.20" cy="68.18" r="1.9"/><circle cx="378.58" cy="68.18" r="1.9"/><circle cx="381.97" cy="68.18" r="1.9"/><circle cx="385.35" cy="68.18" r="1.9"/><circle cx="388.73" cy="68.18" r="1.9"/><circle cx="392.12" cy="68.18" r="1.9"/></g>
<polyline points="57.20,222.50 60.58,222.50 63.97,222.50 67.35,222.50 70.73,222.50 74.12,222.50 77.50,222.50 80.88,222.50 84.26,222.50 87.65,222.50 91.03,222.50 94.41,222.50 97.80,222.50 101.18,222.50 104.56,222.50 107.94,222.50 111.33,222.50 114.71,222.50 118.09,218.41 121.48,218.41 124.86,218.41 128.24,218.41 131.63,214.58 135.01,207.43 138.39,207.43 141.78,203.59 145.16,203.08 148.54,189.03 151.92,175.23 155.31,171.40 158.69,171.40 162.07,145.08 165.46,145.08 168.84,140.74 172.22,137.42 175.61,128.73 178.99,106.76 182.37,102.41 185.75,97.82 189.14,90.92 192.52,80.19 195.90,74.31 199.29,68.43 202.67,59.75 206.05,59.75 209.44,59.75 212.82,55.91 216.20,55.91 219.58,55.91 222.97,50.80 226.35,50.80 229.73,50.80 233.12,50.80 236.50,50.80 239.88,50.80 243.26,50.80 246.65,50.80 250.03,50.80 253.41,50.80 256.80,50.80 260.18,50.80 263.56,50.80 266.95,50.80 270.33,47.48 273.71,47.48 277.10,47.48 280.48,47.48 283.86,47.48 287.24,42.63 290.63,42.63 294.01,42.63 297.39,42.63 300.78,42.63 304.16,42.63 307.54,42.63 310.93,42.63 314.31,42.63 317.69,42.63 321.07,42.63 324.46,42.63 327.84,42.63 331.22,42.63 334.61,42.63 337.99,42.63 341.37,42.63 344.75,42.63 348.14,42.63 351.52,42.63 354.90,42.63 358.29,42.63 361.67,42.63 365.05,42.63 368.44,42.63 371.82,42.63 375.20,42.63 378.58,42.63 381.97,42.63 385.35,42.63 388.73,42.63 392.12,42.63" fill="none" stroke="#3a3a3a" stroke-width="0.7"/>
<path d="M57.20,224.85L59.30,220.15L55.10,220.15ZM60.58,224.85L62.68,220.15L58.48,220.15ZM63.97,224.85L66.07,220.15L61.87,220.15ZM67.35,224.85L69.45,220.15L65.25,220.15ZM70.73,224.85L72.83,220.15L68.63,220.15ZM74.12,224.85L76.22,220.15L72.02,220.15ZM77.50,224.85L79.60,220.15L75.40,220.15ZM80.88,224.85L82.98,220.15L78.78,220.15ZM84.26,224.85L86.36,220.15L82.16,220.15ZM87.65,224.85L89.75,220.15L85.55,220.15ZM91.03,224.85L93.13,220.15L88.93,220.15ZM94.41,224.85L96.51,220.15L92.31,220.15ZM97.80,224.85L99.90,220.15L95.70,220.15ZM101.18,224.85L103.28,220.15L99.08,220.15ZM104.56,224.85L106.66,220.15L102.46,220.15ZM107.94,224.85L110.04,220.15L105.84,220.15ZM111.33,224.85L113.43,220.15L109.23,220.15ZM114.71,224.85L116.81,220.15L112.61,220.15ZM118.09,220.76L120.19,216.06L115.99,216.06ZM121.48,220.76L123.58,216.06L119.38,216.06ZM124.86,220.76L126.96,216.06L122.76,216.06ZM128.24,220.76L130.34,216.06L126.14,216.06ZM131.63,216.93L133.73,212.23L129.53,212.23ZM135.01,209.78L137.11,205.08L132.91,205.08ZM138.39,209.78L140.49,205.08L136.29,205.08ZM141.78,205.94L143.88,201.24L139.68,201.24ZM145.16,205.43L147.26,200.73L143.06,200.73ZM148.54,191.38L150.64,186.68L146.44,186.68ZM151.92,177.58L154.02,172.88L149.82,172.88ZM155.31,173.75L157.41,169.05L153.21,169.05ZM158.69,173.75L160.79,169.05L156.59,169.05ZM162.07,147.43L164.17,142.73L159.97,142.73ZM165.46,147.43L167.56,142.73L163.36,142.73ZM168.84,143.09L170.94,138.39L166.74,138.39ZM172.22,139.77L174.32,135.07L170.12,135.07ZM175.61,131.08L177.71,126.38L173.51,126.38ZM178.99,109.11L181.09,104.41L176.89,104.41ZM182.37,104.76L184.47,100.06L180.27,100.06ZM185.75,100.17L187.85,95.47L183.65,95.47ZM189.14,93.27L191.24,88.57L187.04,88.57ZM192.52,82.54L194.62,77.84L190.42,77.84ZM195.90,76.66L198.00,71.96L193.80,71.96ZM199.29,70.78L201.39,66.08L197.19,66.08ZM202.67,62.10L204.77,57.40L200.57,57.40ZM206.05,62.10L208.15,57.40L203.95,57.40ZM209.44,62.10L211.53,57.40L207.34,57.40ZM212.82,58.26L214.92,53.56L210.72,53.56ZM216.20,58.26L218.30,53.56L214.10,53.56ZM219.58,58.26L221.68,53.56L217.48,53.56ZM222.97,53.15L225.07,48.45L220.87,48.45ZM226.35,53.15L228.45,48.45L224.25,48.45ZM229.73,53.15L231.83,48.45L227.63,48.45ZM233.12,53.15L235.22,48.45L231.02,48.45ZM236.50,53.15L238.60,48.45L234.40,48.45ZM239.88,53.15L241.98,48.45L237.78,48.45ZM243.26,53.15L245.36,48.45L241.16,48.45ZM246.65,53.15L248.75,48.45L244.55,48.45ZM250.03,53.15L252.13,48.45L247.93,48.45ZM253.41,53.15L255.51,48.45L251.31,48.45ZM256.80,53.15L258.90,48.45L254.70,48.45ZM260.18,53.15L262.28,48.45L258.08,48.45ZM263.56,53.15L265.66,48.45L261.46,48.45ZM266.95,53.15L269.05,48.45L264.85,48.45ZM270.33,49.83L272.43,45.13L268.23,45.13ZM273.71,49.83L275.81,45.13L271.61,45.13ZM277.10,49.83L279.20,45.13L275.00,45.13ZM280.48,49.83L282.58,45.13L278.38,45.13ZM283.86,49.83L285.96,45.13L281.76,45.13ZM287.24,44.98L289.34,40.28L285.14,40.28ZM290.63,44.98L292.73,40.28L288.53,40.28ZM294.01,44.98L296.11,40.28L291.91,40.28ZM297.39,44.98L299.49,40.28L295.29,40.28ZM300.78,44.98L302.88,40.28L298.68,40.28ZM304.16,44.98L306.26,40.28L302.06,40.28ZM307.54,44.98L309.64,40.28L305.44,40.28ZM310.93,44.98L313.03,40.28L308.82,40.28ZM314.31,44.98L316.41,40.28L312.21,40.28ZM317.69,44.98L319.79,40.28L315.59,40.28ZM321.07,44.98L323.17,40.28L318.97,40.28ZM324.46,44.98L326.56,40.28L322.36,40.28ZM327.84,44.98L329.94,40.28L325.74,40.28ZM331.22,44.98L333.32,40.28L329.12,40.28ZM334.61,44.98L336.71,40.28L332.51,40.28ZM337.99,44.98L340.09,40.28L335.89,40.28ZM341.37,44.98L343.47,40.28L339.27,40.28ZM344.75,44.98L346.86,40.28L342.65,40.28ZM348.14,44.98L350.24,40.28L346.04,40.28ZM351.52,44.98L353.62,40.28L349.42,40.28ZM354.90,44.98L357.00,40.28L352.80,40.28ZM358.29,44.98L360.39,40.28L356.19,40.28ZM361.67,44.98L363.77,40.28L359.57,40.28ZM365.05,44.98L367.15,40.28L362.95,40.28ZM368.44,44.98L370.54,40.28L366.34,40.28ZM371.82,44.98L373.92,40.28L369.72,40.28ZM375.20,44.98L377.30,40.28L373.10,40.28ZM378.58,44.98L380.69,40.28L376.48,40.28ZM381.97,44.98L384.07,40.28L379.87,40.28ZM385.35,44.98L387.45,40.28L383.25,40.28ZM388.73,44.98L390.83,40.28L386.63,40.28ZM392.12,44.98L394.22,40.28L390.02,40.28Z" fill="#ababab" stroke="#505050" stroke-width="0.5"/>
<polyline points="57.20,222.50 60.58,222.50 63.97,222.50 67.35,222.50 70.73,222.50 74.12,222.50 77.50,222.50 80.88,222.50 84.26,222.50 87.65,222.50 91.03,222.50 94.41,222.50 97.80,222.50 101.18,222.50 104.56,222.50 107.94,222.50 111.33,222.50 114.71,222.50 118.09,218.41 121.48,218.41 124.86,218.41 128.24,218.41 131.63,214.32 135.01,208.19 138.39,206.15 141.78,204.62 145.16,204.62 148.54,202.32 151.92,198.48 155.31,193.37 158.69,193.37 162.07,167.82 165.46,167.82 168.84,155.81 172.22,155.81 175.61,149.68 178.99,145.85 182.37,142.02 185.75,137.42 189.14,129.75 192.52,124.90 195.90,116.72 199.29,109.57 202.67,106.50 206.05,103.69 209.44,103.69 212.82,98.84 216.20,94.75 219.58,81.97 222.97,81.97 226.35,81.97 229.73,81.97 233.12,77.63 236.50,77.63 239.88,73.80 243.26,69.71 246.65,64.86 250.03,56.68 253.41,56.68 256.80,47.74 260.18,43.39 263.56,39.05 266.95,39.05 270.33,39.05 273.71,39.05 277.10,39.05 280.48,39.05 283.86,39.05 287.24,39.05 290.63,39.05 294.01,39.05 297.39,39.05 300.78,39.05 304.16,39.05 307.54,39.05 310.93,39.05 314.31,39.05 317.69,39.05 321.07,39.05 324.46,39.05 327.84,39.05 331.22,39.05 334.61,39.05 337.99,39.05 341.37,39.05 344.75,39.05 348.14,39.05 351.52,39.05 354.90,39.05 358.29,39.05 361.67,39.05 365.05,39.05 368.44,39.05 371.82,39.05 375.20,39.05 378.58,39.05 381.97,39.05 385.35,39.05 388.73,39.05 392.12,39.05" fill="none" stroke="#3a3a3a" stroke-width="0.7"/>
<path d="M57.20,220.15L59.30,224.85L55.10,224.85ZM60.58,220.15L62.68,224.85L58.48,224.85ZM63.97,220.15L66.07,224.85L61.87,224.85ZM67.35,220.15L69.45,224.85L65.25,224.85ZM70.73,220.15L72.83,224.85L68.63,224.85ZM74.12,220.15L76.22,224.85L72.02,224.85ZM77.50,220.15L79.60,224.85L75.40,224.85ZM80.88,220.15L82.98,224.85L78.78,224.85ZM84.26,220.15L86.36,224.85L82.16,224.85ZM87.65,220.15L89.75,224.85L85.55,224.85ZM91.03,220.15L93.13,224.85L88.93,224.85ZM94.41,220.15L96.51,224.85L92.31,224.85ZM97.80,220.15L99.90,224.85L95.70,224.85ZM101.18,220.15L103.28,224.85L99.08,224.85ZM104.56,220.15L106.66,224.85L102.46,224.85ZM107.94,220.15L110.04,224.85L105.84,224.85ZM111.33,220.15L113.43,224.85L109.23,224.85ZM114.71,220.15L116.81,224.85L112.61,224.85ZM118.09,216.06L120.19,220.76L115.99,220.76ZM121.48,216.06L123.58,220.76L119.38,220.76ZM124.86,216.06L126.96,220.76L122.76,220.76ZM128.24,216.06L130.34,220.76L126.14,220.76ZM131.63,211.97L133.73,216.67L129.53,216.67ZM135.01,205.84L137.11,210.54L132.91,210.54ZM138.39,203.80L140.49,208.50L136.29,208.50ZM141.78,202.27L143.88,206.97L139.68,206.97ZM145.16,202.27L147.26,206.97L143.06,206.97ZM148.54,199.97L150.64,204.67L146.44,204.67ZM151.92,196.13L154.02,200.83L149.82,200.83ZM155.31,191.02L157.41,195.72L153.21,195.72ZM158.69,191.02L160.79,195.72L156.59,195.72ZM162.07,165.47L164.17,170.17L159.97,170.17ZM165.46,165.47L167.56,170.17L163.36,170.17ZM168.84,153.46L170.94,158.16L166.74,158.16ZM172.22,153.46L174.32,158.16L170.12,158.16ZM175.61,147.33L177.71,152.03L173.51,152.03ZM178.99,143.50L181.09,148.20L176.89,148.20ZM182.37,139.67L184.47,144.37L180.27,144.37ZM185.75,135.07L187.85,139.77L183.65,139.77ZM189.14,127.40L191.24,132.10L187.04,132.10ZM192.52,122.55L194.62,127.25L190.42,127.25ZM195.90,114.37L198.00,119.07L193.80,119.07ZM199.29,107.22L201.39,111.92L197.19,111.92ZM202.67,104.15L204.77,108.85L200.57,108.85ZM206.05,101.34L208.15,106.04L203.95,106.04ZM209.44,101.34L211.53,106.04L207.34,106.04ZM212.82,96.49L214.92,101.19L210.72,101.19ZM216.20,92.40L218.30,97.10L214.10,97.10ZM219.58,79.62L221.68,84.32L217.48,84.32ZM222.97,79.62L225.07,84.32L220.87,84.32ZM226.35,79.62L228.45,84.32L224.25,84.32ZM229.73,79.62L231.83,84.32L227.63,84.32ZM233.12,75.28L235.22,79.98L231.02,79.98ZM236.50,75.28L238.60,79.98L234.40,79.98ZM239.88,71.45L241.98,76.15L237.78,76.15ZM243.26,67.36L245.36,72.06L241.16,72.06ZM246.65,62.51L248.75,67.21L244.55,67.21ZM250.03,54.33L252.13,59.03L247.93,59.03ZM253.41,54.33L255.51,59.03L251.31,59.03ZM256.80,45.39L258.90,50.09L254.70,50.09ZM260.18,41.04L262.28,45.74L258.08,45.74ZM263.56,36.70L265.66,41.40L261.46,41.40ZM266.95,36.70L269.05,41.40L264.85,41.40ZM270.33,36.70L272.43,41.40L268.23,41.40ZM273.71,36.70L275.81,41.40L271.61,41.40ZM277.10,36.70L279.20,41.40L275.00,41.40ZM280.48,36.70L282.58,41.40L278.38,41.40ZM283.86,36.70L285.96,41.40L281.76,41.40ZM287.24,36.70L289.34,41.40L285.14,41.40ZM290.63,36.70L292.73,41.40L288.53,41.40ZM294.01,36.70L296.11,41.40L291.91,41.40ZM297.39,36.70L299.49,41.40L295.29,41.40ZM300.78,36.70L302.88,41.40L298.68,41.40ZM304.16,36.70L306.26,41.40L302.06,41.40ZM307.54,36.70L309.64,41.40L305.44,41.40ZM310.93,36.70L313.03,41.40L308.82,41.40ZM314.31,36.70L316.41,41.40L312.21,41.40ZM317.69,36.70L319.79,41.40L315.59,41.40ZM321.07,36.70L323.17,41.40L318.97,41.40ZM324.46,36.70L326.56,41.40L322.36,41.40ZM327.84,36.70L329.94,41.40L325.74,41.40ZM331.22,36.70L333.32,41.40L329.12,41.40ZM334.61,36.70L336.71,41.40L332.51,41.40ZM337.99,36.70L340.09,41.40L335.89,41.40ZM341.37,36.70L343.47,41.40L339.27,41.40ZM344.75,36.70L346.86,41.40L342.65,41.40ZM348.14,36.70L350.24,41.40L346.04,41.40ZM351.52,36.70L353.62,41.40L349.42,41.40ZM354.90,36.70L357.00,41.40L352.80,41.40ZM358.29,36.70L360.39,41.40L356.19,41.40ZM361.67,36.70L363.77,41.40L359.57,41.40ZM365.05,36.70L367.15,41.40L362.95,41.40ZM368.44,36.70L370.54,41.40L366.34,41.40ZM371.82,36.70L373.92,41.40L369.72,41.40ZM375.20,36.70L377.30,41.40L373.10,41.40ZM378.58,36.70L380.69,41.40L376.48,41.40ZM381.97,36.70L384.07,41.40L379.87,41.40ZM385.35,36.70L387.45,41.40L383.25,41.40ZM388.73,36.70L390.83,41.40L386.63,41.40ZM392.12,36.70L394.22,41.40L390.02,41.40Z" fill="#ababab" stroke="#505050" stroke-width="0.5"/>
</g>
<path d="M461.5,3.2V222.3 M682.0,3.2V222.3 M460.95,3.2H682.55 M460.95,222.3H682.55" stroke="#111" stroke-width="1.15" fill="none"/>
<path d="M484.70,222.3V225.8 M484.70,3.2V0M519.50,222.3V225.8 M519.50,3.2V0M554.30,222.3V225.8 M554.30,3.2V0M589.10,222.3V225.8 M589.10,3.2V0M623.90,222.3V225.8 M623.90,3.2V0M658.70,222.3V225.8 M658.70,3.2V0M458.2,222.30H461.5 M682.0,222.30H685.3M458.2,178.05H461.5 M682.0,178.05H685.3M458.2,133.80H461.5 M682.0,133.80H685.3M458.2,89.55H461.5 M682.0,89.55H685.3M458.2,45.30H461.5 M682.0,45.30H685.3" stroke="#111" stroke-width="1.1" fill="none"/>
<path d="M537.4,3.8000000000000003V222.3" stroke="#111" stroke-width="1.1" stroke-dasharray="2.3,1.6" fill="none"/>
<g style="font-family:'Liberation Sans',sans-serif;stroke:#111;stroke-width:0.3px;font-weight:bold;font-size:10.3px" fill="#111"><text x="457.2" y="225.95" text-anchor="end">0</text><text x="457.2" y="181.70" text-anchor="end">20</text><text x="457.2" y="137.45" text-anchor="end">40</text><text x="457.2" y="93.20" text-anchor="end">60</text><text x="457.2" y="48.95" text-anchor="end">80</text><text x="484.70" y="236.2" text-anchor="middle" font-size="10.8px">NC</text><text x="519.50" y="236.2" text-anchor="middle" font-size="10.8px">SC</text><text x="554.30" y="236.2" text-anchor="middle" font-size="10.8px">1R</text><text x="589.10" y="236.2" text-anchor="middle" font-size="10.8px">3R</text><text x="623.90" y="236.2" text-anchor="middle" font-size="10.8px">5R</text><text x="658.70" y="236.2" text-anchor="middle" font-size="10.8px">7R</text></g>
<text x="571.8" y="253.5" text-anchor="middle" style="font-family:'Liberation Sans',sans-serif;stroke:#111;stroke-width:0.3px;font-weight:bold;font-size:12px" fill="#111">Treatments</text>
<text x="442.4" y="11" style="font-family:'Liberation Sans',sans-serif;stroke:#111;stroke-width:0.3px;font-weight:bold;font-size:14.5px" fill="#111">b)</text>
<g transform="translate(0,110) rotate(-90)" style="font-family:'Liberation Sans',sans-serif;stroke:#111;stroke-width:0.3px;font-weight:bold;font-size:12.2px" fill="#111" text-anchor="middle"><text x="0" y="421.8">EmT<tspan font-size="8.6px" dy="3.6">50</tspan><tspan dy="-3.6"> [d]</tspan></text><text x="0" y="439.6">(mean±SD)</text></g>
<path d="M484.70,121.2V148.3 M480.30,121.2H489.10 M480.30,148.3H489.10" stroke="#555" stroke-width="1.2" fill="none"/>
<path d="M484.70,130.80L489.30,139.40L480.10,139.40Z" fill="#8e8e8e" stroke="#333" stroke-width="0.9"/>
<path d="M519.50,142.6V154.2 M515.10,142.6H523.90 M515.10,154.2H523.90" stroke="#555" stroke-width="1.2" fill="none"/>
<path d="M519.50,153.60L524.00,144.40L515.00,144.40Z" fill="#8e8e8e" stroke="#333" stroke-width="0.9"/>
<path d="M554.30,139.8V155.3 M549.90,139.8H558.70 M549.90,155.3H558.70" stroke="#555" stroke-width="1.2" fill="none"/>
<circle cx="554.30" cy="147.8" r="4.6" fill="#46e6a2" stroke="#222" stroke-width="0.9"/>
<path d="M589.10,126.8V160.4 M584.70,126.8H593.50 M584.70,160.4H593.50" stroke="#555" stroke-width="1.2" fill="none"/>
<circle cx="589.10" cy="143.8" r="4.6" fill="#14b572" stroke="#222" stroke-width="0.9"/>
<path d="M623.90,141.6V169.2 M619.50,141.6H628.30 M619.50,169.2H628.30" stroke="#555" stroke-width="1.2" fill="none"/>
<circle cx="623.90" cy="155.5" r="4.6" fill="#1b8daa" stroke="#222" stroke-width="0.9"/>
<path d="M658.70,144.9V162.1 M654.30,144.9H663.10 M654.30,162.1H663.10" stroke="#555" stroke-width="1.2" fill="none"/>
<circle cx="658.70" cy="153.5" r="4.6" fill="#579cf2" stroke="#222" stroke-width="0.9"/>
<path d="M484.70,115.3V110.6H519.50V136.7" stroke="#333" stroke-width="1.1" fill="none"/>
<text x="502" y="111.0" text-anchor="middle" style="font-family:'Liberation Sans',sans-serif;stroke:#111;stroke-width:0.3px;font-weight:bold;font-size:12.8px" fill="#222">*</text>
</svg>
</body></html>
